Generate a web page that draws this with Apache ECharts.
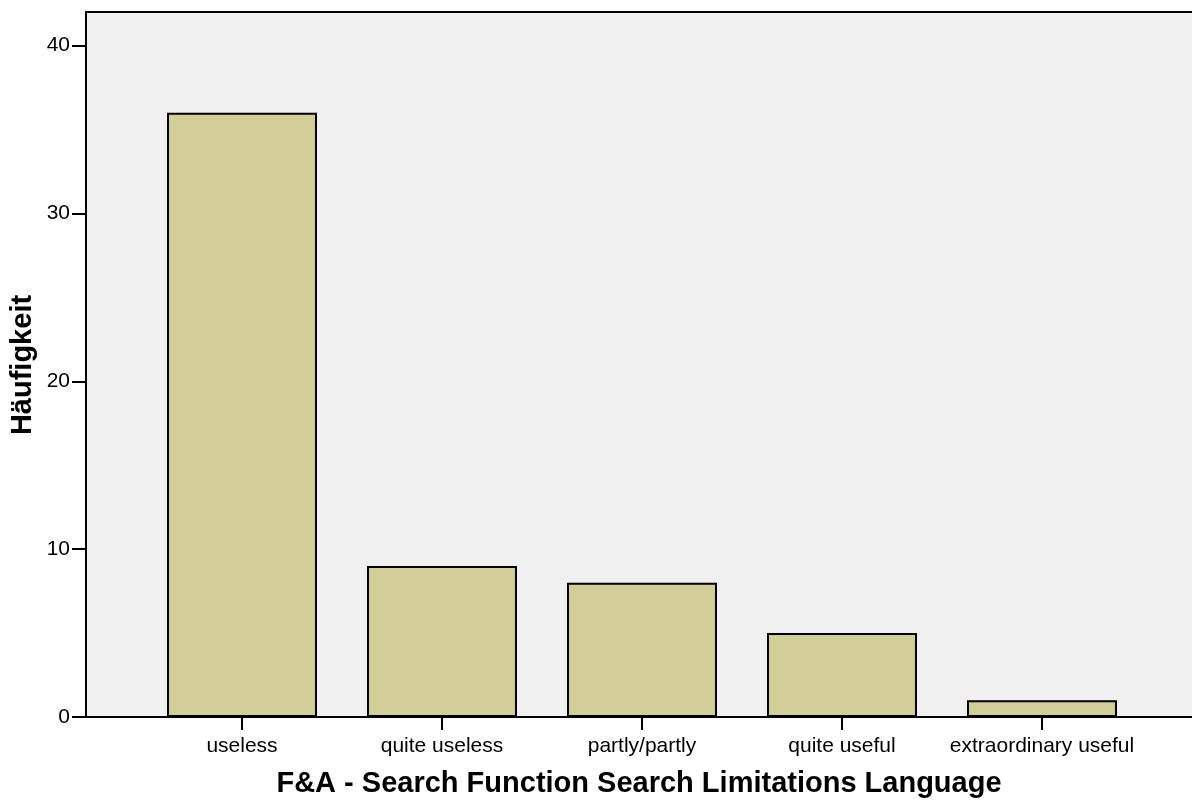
<!DOCTYPE html>
<html>
<head>
<meta charset="utf-8">
<script src="https://cdn.jsdelivr.net/npm/echarts@6/dist/echarts.min.js"></script>
<style>html,body{margin:0;padding:0;background:#fff}#c{width:1192px;height:801px}</style>
</head>
<body>
<div id="c"></div>
<script>
const categories = ['useless', 'quite useless', 'partly/partly', 'quite useful', 'extraordinary useful'];
const counts = [36, 9, 8, 5, 1];
const yTicks = [0, 10, 20, 30, 40];
const xTitle = 'F&A - Search Function Search Limitations Language';
const yTitle = 'Häufigkeit';

const FONT = 'Liberation Sans, Arial, Helvetica, sans-serif';
const chart = echarts.init(document.getElementById('c'), null, {renderer: 'canvas'});
const yMin = 0, yMax = 42;
chart.setOption({
  animation: false,
  backgroundColor: '#ffffff',
  grid: [
    {left: 86, right: 0, top: 12, bottom: 84, show: true, backgroundColor: '#f0f0f0', borderWidth: 0,
     containLabel: false, outerBoundsMode: 'none'},
    {left: 142, right: 50, top: 12, bottom: 84, containLabel: false, outerBoundsMode: 'none'}
  ],
  graphic: [{
    type: 'text', x: 23, y: 365, rotation: Math.PI / 2,
    style: {text: yTitle, fontFamily: FONT, fontSize: 29, fontWeight: 'bold', fill: '#000',
            align: 'center', verticalAlign: 'middle'}
  }],
  xAxis: [
    {gridIndex: 0, type: 'value', min: 0, max: 1, position: 'bottom',
     axisLine: {show: true, lineStyle: {color: '#000', width: 2}},
     axisTick: {show: false}, axisLabel: {show: false}, splitLine: {show: false},
     name: xTitle, nameLocation: 'middle', nameGap: 52,
     nameTextStyle: {fontFamily: FONT, fontSize: 29, fontWeight: 'bold', color: '#000'}},
    {gridIndex: 0, type: 'value', min: 0, max: 1, position: 'top',
     axisLine: {show: true, lineStyle: {color: '#000', width: 2}},
     axisTick: {show: false}, axisLabel: {show: false}, splitLine: {show: false}},
    {gridIndex: 1, type: 'category', data: categories, boundaryGap: true,
     axisLine: {show: false},
     axisTick: {show: true, alignWithLabel: true, length: 13, inside: false, lineStyle: {color: '#000', width: 2}},
     axisLabel: {show: true, margin: 19, fontFamily: FONT, fontSize: 21, color: '#000', interval: 0},
     splitLine: {show: false}}
  ],
  yAxis: [
    {gridIndex: 0, type: 'value', min: yMin, max: yMax, interval: 10,
     axisLine: {show: true, lineStyle: {color: '#000', width: 2}},
     axisTick: {show: true, length: 14, inside: false, customValues: yTicks, lineStyle: {color: '#000', width: 2}},
     axisLabel: {show: true, margin: 16, fontFamily: FONT, fontSize: 21, color: '#000', customValues: yTicks},
     splitLine: {show: false}},
    {gridIndex: 1, type: 'value', min: yMin, max: yMax, show: false, splitLine: {show: false}}
  ],
  series: [{
    type: 'bar', xAxisIndex: 2, yAxisIndex: 1, data: counts, barWidth: 150,
    itemStyle: {color: '#d3ce97', borderColor: '#000', borderWidth: 2}
  }]
});
</script>
</body>
</html>
